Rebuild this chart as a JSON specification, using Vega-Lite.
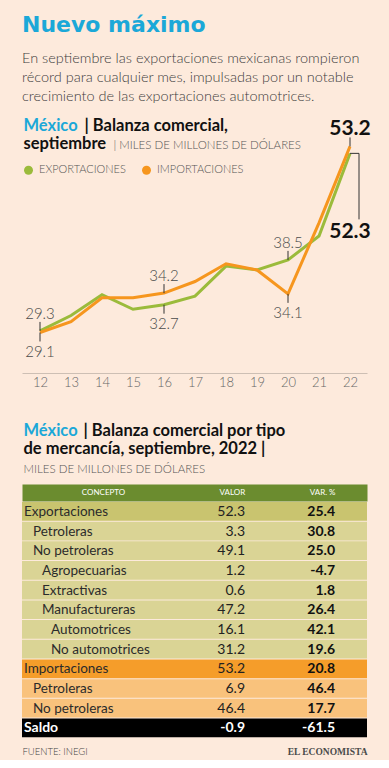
{
  "$schema": "https://vega.github.io/schema/vega-lite/v6.json",
  "background": "#fdeadc",
  "padding": {"left": 22, "right": 22, "top": 13, "bottom": 4},
  "autosize": {"type": "pad"},
  "config": {
    "view": {"stroke": null},
    "font": "Lato",
    "axis": {"labelFont": "Lato", "titleFont": "Lato"},
    "locale": {"number": {"decimal": ".", "thousands": ",", "grouping": [3], "currency": ["$", ""], "minus": "-"}}
  },
  "title": {
    "text": "Nuevo máximo",
    "subtitle": [
      "En septiembre las exportaciones mexicanas rompieron",
      "récord para cualquier mes, impulsadas por un notable",
      "crecimiento de las exportaciones automotrices."
    ],
    "anchor": "start",
    "font": "DejaVu Sans",
    "fontSize": 22,
    "fontWeight": "bold",
    "color": "#1ba8d8",
    "subtitleFont": "Lato",
    "subtitleFontSize": 14.5,
    "subtitleFontWeight": 300,
    "subtitleColor": "#3d3d3d",
    "subtitleLineHeight": 19,
    "subtitlePadding": 15,
    "offset": 9
  },
  "datasets": {
    "balanza": [
      {"anio": 12, "serie": "Exportaciones", "valor": 29.3},
      {"anio": 13, "serie": "Exportaciones", "valor": 31.3},
      {"anio": 14, "serie": "Exportaciones", "valor": 34.0},
      {"anio": 15, "serie": "Exportaciones", "valor": 32.1},
      {"anio": 16, "serie": "Exportaciones", "valor": 32.7},
      {"anio": 17, "serie": "Exportaciones", "valor": 33.8},
      {"anio": 18, "serie": "Exportaciones", "valor": 37.7},
      {"anio": 19, "serie": "Exportaciones", "valor": 37.2},
      {"anio": 20, "serie": "Exportaciones", "valor": 38.5},
      {"anio": 21, "serie": "Exportaciones", "valor": 41.6},
      {"anio": 22, "serie": "Exportaciones", "valor": 52.3},
      {"anio": 12, "serie": "Importaciones", "valor": 29.1},
      {"anio": 13, "serie": "Importaciones", "valor": 30.5},
      {"anio": 14, "serie": "Importaciones", "valor": 33.6},
      {"anio": 15, "serie": "Importaciones", "valor": 33.6},
      {"anio": 16, "serie": "Importaciones", "valor": 34.2},
      {"anio": 17, "serie": "Importaciones", "valor": 35.7},
      {"anio": 18, "serie": "Importaciones", "valor": 38.0},
      {"anio": 19, "serie": "Importaciones", "valor": 37.2},
      {"anio": 20, "serie": "Importaciones", "valor": 34.1},
      {"anio": 21, "serie": "Importaciones", "valor": 43.3},
      {"anio": 22, "serie": "Importaciones", "valor": 53.2}
    ],
    "tabla": [
      {"orden": 1, "concepto": "Exportaciones", "nivel": 0, "tipo": "Total exportaciones", "valor": 52.3, "var": 25.4},
      {"orden": 2, "concepto": "Petroleras", "nivel": 1, "tipo": "Desglose exportaciones", "valor": 3.3, "var": 30.8},
      {"orden": 3, "concepto": "No petroleras", "nivel": 1, "tipo": "Desglose exportaciones", "valor": 49.1, "var": 25.0},
      {"orden": 4, "concepto": "Agropecuarias", "nivel": 2, "tipo": "Desglose exportaciones", "valor": 1.2, "var": -4.7},
      {"orden": 5, "concepto": "Extractivas", "nivel": 2, "tipo": "Desglose exportaciones", "valor": 0.6, "var": 1.8},
      {"orden": 6, "concepto": "Manufactureras", "nivel": 2, "tipo": "Desglose exportaciones", "valor": 47.2, "var": 26.4},
      {"orden": 7, "concepto": "Automotrices", "nivel": 3, "tipo": "Desglose exportaciones", "valor": 16.1, "var": 42.1},
      {"orden": 8, "concepto": "No automotrices", "nivel": 3, "tipo": "Desglose exportaciones", "valor": 31.2, "var": 19.6},
      {"orden": 9, "concepto": "Importaciones", "nivel": 0, "tipo": "Total importaciones", "valor": 53.2, "var": 20.8},
      {"orden": 10, "concepto": "Petroleras", "nivel": 1, "tipo": "Desglose importaciones", "valor": 6.9, "var": 46.4},
      {"orden": 11, "concepto": "No petroleras", "nivel": 1, "tipo": "Desglose importaciones", "valor": 46.4, "var": 17.7},
      {"orden": 12, "concepto": "Saldo", "nivel": 0, "tipo": "Saldo", "valor": -0.9, "var": -61.5}
    ]
  },
  "resolve": {"scale": {"color": "independent"}, "legend": {"color": "independent"}},
  "spacing": 33,
  "vconcat": [
    {
      "width": 345,
      "height": 260,
      "data": {"name": "balanza"},
      "resolve": {"scale": {"x": "independent", "y": "independent"}},
      "layer": [
        {
          "encoding": {
            "x": {
              "field": "anio", "type": "quantitative",
              "scale": {"domain": [11.419, 22.548], "nice": false, "zero": false},
              "axis": {
                "orient": "bottom", "values": [12, 13, 14, 15, 16, 17, 18, 19, 20, 21, 22], "format": "d",
                "grid": false, "ticks": false, "tickSize": 0, "domain": true, "domainColor": "#cdbfb4", "domainWidth": 1,
                "labelFontSize": 13, "labelFontWeight": 300, "labelColor": "#666666", "labelPadding": 3, "labelFlush": false,
                "title": "| Balanza comercial,", "titleX": 62, "titleY": -243, "titleAlign": "left", "titleBaseline": "alphabetic",
                "titleFontSize": 16.5, "titleFontWeight": "bold", "titleColor": "#111111"
              }
            },
            "y": {
              "field": "valor", "type": "quantitative",
              "scale": {"domain": [23.85, 57.53], "nice": false, "zero": false},
              "axis": {
                "orient": "left", "labels": false, "ticks": false, "domain": false, "grid": false,
                "title": "México", "titleAngle": 0, "titleX": 1, "titleY": 17, "titleAlign": "left", "titleBaseline": "alphabetic",
                "titleFontSize": 16.5, "titleFontWeight": "bold", "titleColor": "#1ba8d8"
              }
            }
          },
          "layer": [
            {
              "mark": {"type": "line", "strokeWidth": 3},
              "encoding": {
                "color": {
                  "field": "serie", "type": "nominal",
                  "scale": {"domain": ["Exportaciones", "Importaciones"], "range": ["#9bbb3b", "#f6961e"]},
                  "legend": {
                    "orient": "none", "legendX": 1, "legendY": 51.5, "direction": "horizontal", "title": null,
                    "symbolType": "circle", "symbolSize": 80, "labelFontSize": 11, "labelFontWeight": 300,
                    "labelColor": "#555555", "columnPadding": 15, "labelOffset": 5, "padding": 0,
                    "labelExpr": "upper(datum.label)",
                    "encode": {"symbols": {"update": {
                      "fill": {"signal": "datum.value == 'Exportaciones' ? '#9bbb3b' : '#f6961e'"},
                      "strokeWidth": {"value": 0}
                    }}}
                  }
                }
              }
            },
            {
              "transform": [{"filter": "(datum.serie == 'Exportaciones' && (datum.anio == 12 || datum.anio == 20)) || (datum.serie == 'Importaciones' && (datum.anio == 16 || datum.anio == 22))"}],
              "mark": {"type": "rule", "y2Offset": -9, "color": "#333333", "strokeWidth": 1},
              "encoding": {"y2": {"field": "valor"}}
            },
            {
              "transform": [{"filter": "(datum.serie == 'Importaciones' && (datum.anio == 12 || datum.anio == 20)) || (datum.serie == 'Exportaciones' && datum.anio == 16)"}],
              "mark": {"type": "rule", "y2Offset": 9, "color": "#333333", "strokeWidth": 1},
              "encoding": {"y2": {"field": "valor"}}
            },
            {
              "transform": [{"filter": "(datum.serie == 'Exportaciones' && (datum.anio == 12 || datum.anio == 20)) || (datum.serie == 'Importaciones' && datum.anio == 16)"}],
              "mark": {"type": "text", "dy": -12, "fontSize": 15, "fontWeight": 300, "color": "#4a4a4a", "align": "center", "baseline": "alphabetic"},
              "encoding": {"text": {"field": "valor", "type": "quantitative", "format": ".1f"}}
            },
            {
              "transform": [{"filter": "(datum.serie == 'Importaciones' && (datum.anio == 12 || datum.anio == 20)) || (datum.serie == 'Exportaciones' && datum.anio == 16)"}],
              "mark": {"type": "text", "dy": 24.5, "fontSize": 15, "fontWeight": 300, "color": "#4a4a4a", "align": "center", "baseline": "alphabetic"},
              "encoding": {"text": {"field": "valor", "type": "quantitative", "format": ".1f"}}
            },
            {
              "transform": [{"filter": "datum.serie == 'Importaciones' && datum.anio == 22"}],
              "mark": {"type": "text", "dy": -11.6, "fontSize": 21, "fontWeight": "bold", "color": "#111111", "align": "center", "baseline": "alphabetic"},
              "encoding": {"text": {"field": "valor", "type": "quantitative", "format": ".1f"}}
            },
            {
              "transform": [{"filter": "datum.serie == 'Exportaciones' && datum.anio == 22"}],
              "mark": {"type": "rule", "x2Offset": 9, "color": "#333333", "strokeWidth": 1},
              "encoding": {"x2": {"field": "anio"}}
            },
            {
              "transform": [{"filter": "datum.serie == 'Exportaciones' && datum.anio == 22"}],
              "mark": {"type": "rule", "xOffset": 9, "y2Offset": 66, "color": "#333333", "strokeWidth": 1},
              "encoding": {"y2": {"field": "valor"}}
            }
          ]
        },
        {
          "transform": [{"filter": "datum.serie == 'Exportaciones' && datum.anio == 22"}],
          "mark": {"type": "text", "dy": 85, "fontSize": 21, "fontWeight": "bold", "color": "#111111", "align": "center", "baseline": "alphabetic"},
          "encoding": {
            "x": {
              "field": "anio", "type": "quantitative",
              "scale": {"domain": [11.419, 22.548], "nice": false, "zero": false},
              "axis": {
                "orient": "top", "labels": false, "ticks": false, "domain": false, "grid": false,
                "title": "| MILES DE MILLONES DE DÓLARES", "titleX": 91, "titleY": 35, "titleAlign": "left", "titleBaseline": "alphabetic",
                "titleFontSize": 11.5, "titleFontWeight": 300, "titleColor": "#555555"
              }
            },
            "y": {
              "field": "valor", "type": "quantitative",
              "scale": {"domain": [23.85, 57.53], "nice": false, "zero": false},
              "axis": {
                "orient": "right", "labels": false, "ticks": false, "domain": false, "grid": false,
                "title": "septiembre", "titleAngle": 0, "titleX": -344, "titleY": 35, "titleAlign": "left", "titleBaseline": "alphabetic",
                "titleFontSize": 16.5, "titleFontWeight": "bold", "titleColor": "#111111"
              }
            },
            "text": {"field": "valor", "type": "quantitative", "format": ".1f"}
          }
        }
      ]
    },
    {
      "width": 345,
      "height": 235.2,
      "data": {"name": "tabla"},
      "resolve": {"scale": {"x": "independent", "y": "independent"}},
      "layer": [
        {
          "encoding": {
            "y": {
              "field": "orden", "type": "ordinal",
              "scale": {"type": "band", "domain": [1, 2, 3, 4, 5, 6, 7, 8, 9, 10, 11, 12], "paddingInner": 0.05, "paddingOuter": 0},
              "axis": {
                "orient": "left", "labels": false, "ticks": false, "domain": false, "grid": false,
                "title": "México", "titleAngle": 0, "titleX": 1, "titleY": -67, "titleAlign": "left", "titleBaseline": "alphabetic",
                "titleFontSize": 16.5, "titleFontWeight": "bold", "titleColor": "#1ba8d8"
              }
            }
          },
          "layer": [
            {
              "mark": {"type": "rect"},
              "encoding": {
                "color": {
                  "field": "tipo", "type": "nominal",
                  "scale": {
                    "domain": ["Total exportaciones", "Desglose exportaciones", "Total importaciones", "Desglose importaciones", "Saldo"],
                    "range": ["#c9c46f", "#dad495", "#f59d2a", "#f9c27c", "#000000"]
                  },
                  "legend": null
                }
              }
            },
            {
              "transform": [{"filter": "datum.concepto != 'Saldo'"}],
              "mark": {"type": "text", "align": "right", "baseline": "middle", "dx": 26, "dy": 0.5, "fontSize": 14, "color": "#222222"},
              "encoding": {
                "x": {
                  "datum": "VALOR", "type": "nominal",
                  "scale": {"type": "point", "domain": ["CONCEPTO", "VALOR", "VAR. %"], "padding": 0.487, "align": 0.717},
                  "axis": {
                    "orient": "top", "offset": 9.5, "domain": false, "zindex": 1,
                    "ticks": false, "tickSize": 0, "grid": false, "labels": true, "labelColor": "#ffffff", "labelFontSize": 8,
                    "labelBaseline": "middle", "labelPadding": 0, "labelAngle": 0, "labelOverlap": false,
                    "labelAlign": {"condition": [{"test": "datum.value == 'CONCEPTO'", "value": "center"}, {"test": "datum.value == 'VALOR'", "value": "left"}], "value": "right"},
                    "title": "| Balanza comercial por tipo", "titleX": 61, "titleY": -57.5, "titleAlign": "left", "titleBaseline": "alphabetic",
                    "titleFontSize": 16.5, "titleFontWeight": "bold", "titleColor": "#111111"
                  }
                },
                "text": {"field": "valor", "type": "quantitative", "format": ".1f"}
              }
            },
            {
              "transform": [{"filter": "datum.concepto == 'Saldo'"}],
              "mark": {"type": "text", "align": "right", "baseline": "middle", "dx": 26, "dy": 0.5, "fontSize": 14, "fontWeight": "bold", "color": "#ffffff"},
              "encoding": {
                "x": {
                  "datum": "VALOR", "type": "nominal",
                  "scale": {"type": "point", "domain": ["CONCEPTO", "VALOR", "VAR. %"], "padding": 0.487, "align": 0.717}
                },
                "text": {"field": "valor", "type": "quantitative", "format": ".1f"}
              }
            },
            {
              "mark": {"type": "text", "align": "right", "baseline": "middle", "dy": 0.5, "fontSize": 14, "fontWeight": "bold"},
              "encoding": {
                "x": {
                  "datum": "VAR. %", "type": "nominal",
                  "scale": {"type": "point", "domain": ["CONCEPTO", "VALOR", "VAR. %"], "padding": 0.487, "align": 0.717}
                },
                "color": {"condition": {"test": "datum.concepto == 'Saldo'", "value": "#ffffff"}, "value": "#111111"},
                "text": {"field": "var", "type": "quantitative", "format": ".1f"}
              }
            }
          ]
        },
        {
          "transform": [{"filter": "datum.concepto != 'Saldo'"}],
          "mark": {"type": "text", "align": "left", "baseline": "middle", "dy": 0.5, "fontSize": 13.5, "color": "#2b2b2b"},
          "encoding": {
            "x": {
              "field": "nivel", "type": "quantitative",
              "scale": {"domain": [-0.222, 38.11], "nice": false, "zero": false},
              "axis": {
                "orient": "bottom", "labels": false, "ticks": false, "domain": false, "grid": false,
                "title": "FUENTE: INEGI", "titleX": 0, "titleY": 16.8, "titleAlign": "left", "titleBaseline": "alphabetic",
                "titleFontSize": 9.5, "titleFontWeight": 300, "titleColor": "#444444"
              }
            },
            "y": {
              "field": "orden", "type": "ordinal",
              "scale": {"type": "band", "domain": [1, 2, 3, 4, 5, 6, 7, 8, 9, 10, 11, 12], "paddingInner": 0.05, "paddingOuter": 0},
              "axis": {
                "orient": "right", "labels": false, "ticks": false, "domain": false, "grid": false,
                "title": "EL ECONOMISTA", "titleAngle": 0, "titleX": 0, "titleY": 252, "titleAlign": "right", "titleBaseline": "alphabetic",
                "titleFont": "Liberation Serif", "titleFontSize": 9.5, "titleFontWeight": "bold", "titleColor": "#4a4a4a"
              }
            },
            "text": {"field": "concepto", "type": "nominal"}
          }
        },
        {
          "transform": [{"filter": "datum.concepto == 'Saldo'"}],
          "mark": {"type": "text", "align": "left", "baseline": "middle", "dy": 0.5, "fontSize": 14, "fontWeight": "bold", "color": "#ffffff"},
          "encoding": {
            "x": {
              "field": "nivel", "type": "quantitative",
              "scale": {"domain": [-0.222, 38.11], "nice": false, "zero": false},
              "axis": {
                "orient": "top", "offset": 9.5, "labels": false, "ticks": false, "grid": false,
                "domain": true, "domainColor": "#6b8c2f", "domainWidth": 17,
                "title": "de mercancía, septiembre, 2022 |", "titleX": 1, "titleY": -39.5, "titleAlign": "left", "titleBaseline": "alphabetic",
                "titleFontSize": 16.5, "titleFontWeight": "bold", "titleColor": "#111111"
              }
            },
            "y": {
              "field": "orden", "type": "ordinal",
              "scale": {"type": "band", "domain": [1, 2, 3, 4, 5, 6, 7, 8, 9, 10, 11, 12], "paddingInner": 0.05, "paddingOuter": 0},
              "axis": {
                "orient": "left", "labels": false, "ticks": false, "domain": false, "grid": false,
                "title": "MILES DE MILLONES DE DÓLARES", "titleAngle": 0, "titleX": 1, "titleY": -30, "titleAlign": "left", "titleBaseline": "alphabetic",
                "titleFontSize": 11.5, "titleFontWeight": 300, "titleColor": "#555555"
              }
            },
            "text": {"field": "concepto", "type": "nominal"}
          }
        }
      ]
    }
  ]
}
